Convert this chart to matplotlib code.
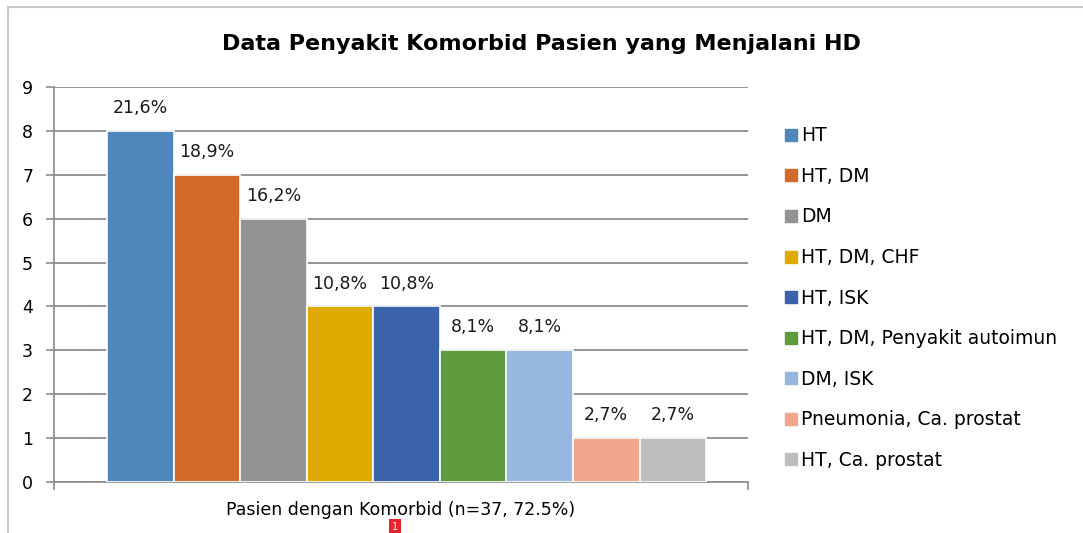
import matplotlib.pyplot as plt
from matplotlib.lines import Line2D

# data
categories = [
    "HT",
    "HT, DM",
    "DM",
    "HT, DM, CHF",
    "HT, ISK",
    "HT, DM, Penyakit autoimun",
    "DM, ISK",
    "Pneumonia, Ca. prostat",
    "HT, Ca. prostat",
]
counts = [8, 7, 6, 4, 4, 3, 3, 1, 1]
pct_labels = ["21,6%", "18,9%", "16,2%", "10,8%", "10,8%", "8,1%", "8,1%", "2,7%", "2,7%"]
colors = [
    "#4f87bd", "#d26b2a", "#939393", "#e0ab00", "#3a63ab",
    "#5f9a3c", "#96b8e0", "#f0a68a", "#bdbdbd",
]
yticks = list(range(0, 10))

plt.rcParams["font.family"] = ["DejaVu Sans"]

fig = plt.figure(figsize=(10.83, 5.33), dpi=100)
ax = fig.add_axes([54 / 1083, 1 - 482 / 533, (748 - 54) / 1083, (482 - 87) / 533])

x = list(range(len(counts)))
bars = ax.bar(x, counts, width=1.0, color=colors, edgecolor="white", linewidth=1.2,
              label=categories, zorder=3)

for xi, c, lab in zip(x, counts, pct_labels):
    ax.annotate(lab, (xi, c), xytext=(0, 10), textcoords="offset points",
                ha="center", va="bottom", fontsize=12.5, color="#1a1a1a")

ax.set_ylim(0, 9)
ax.set_xlim(-1.3, 9.13)
ax.set_yticks(yticks)
ax.set_yticklabels([str(t) for t in yticks], fontsize=12.5)
ax.set_xticks([-1.3, 9.13])
ax.set_xticklabels(["", ""])
ax.tick_params(axis="y", length=6, width=1.2, color="#8c8c8c", pad=9)
ax.tick_params(axis="x", length=6, width=1.2, color="#8c8c8c", direction="out")
ax.yaxis.grid(True, color="#8c8c8c", linewidth=1.3, zorder=0)
ax.set_axisbelow(True)
for side in ["top", "right"]:
    ax.spines[side].set_visible(False)
for side in ["left", "bottom"]:
    ax.spines[side].set_color("#8c8c8c")
    ax.spines[side].set_linewidth(1.2)

ax.set_xlabel("Pasien dengan Komorbid (n=37, 72.5%)", fontsize=12.5, labelpad=4)

fig.text(0.5, 1 - 44 / 533, "Data Penyakit Komorbid Pasien yang Menjalani HD",
         ha="center", va="center", fontsize=16, fontweight="bold")

handles = [
    Line2D([0], [0], marker="s", linestyle="none", markersize=8,
           markerfacecolor=col, markeredgecolor=col)
    for col in colors
]
fig.legend(handles, categories, loc="upper left", bbox_to_anchor=(776 / 1083, 1 - 117 / 533),
           frameon=False, fontsize=13.5, handlelength=0.55, handletextpad=0.3,
           labelspacing=1.15, borderpad=0)

# outer chart frame
fig.add_artist(Line2D([8 / 1083, 8 / 1083], [0, 1 - 7 / 533], color="#c8c8c8", linewidth=1.5))
fig.add_artist(Line2D([8 / 1083, 1], [1 - 7 / 533, 1 - 7 / 533], color="#c8c8c8", linewidth=1.5))

# small red marker badge
fig.text(395 / 1083, 1 - 527 / 533, "1", ha="center", va="center", fontsize=7, color="white",
         bbox=dict(boxstyle="square,pad=0.3", facecolor="#e8232a", edgecolor="none"))

fig.savefig("out.png", dpi=100)
